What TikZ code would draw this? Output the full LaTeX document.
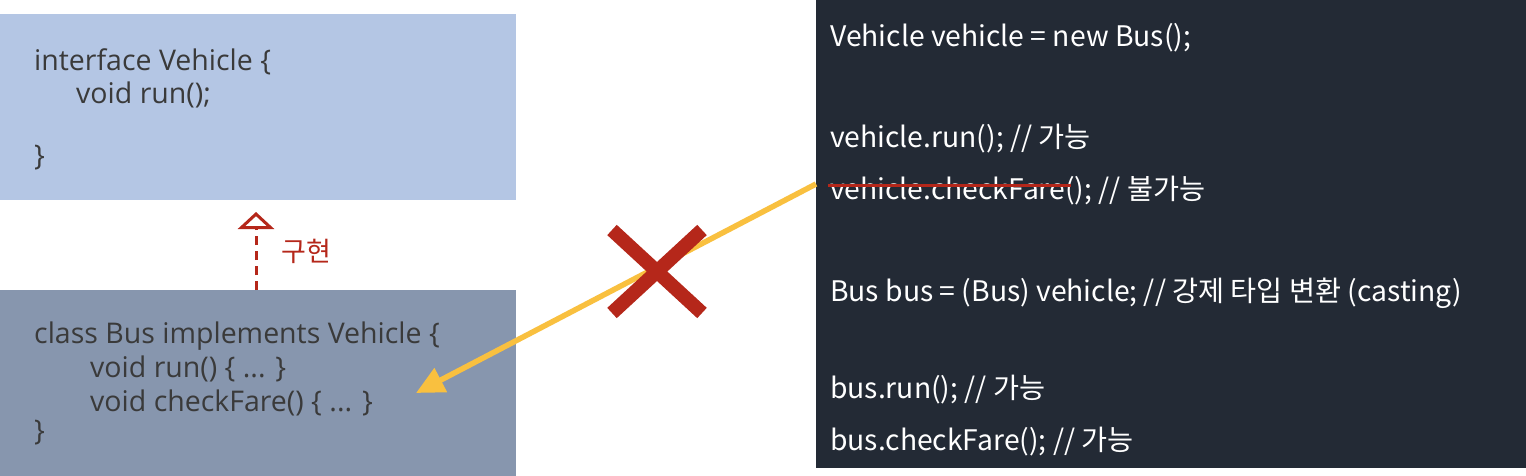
\documentclass[tikz,border=0pt]{standalone}
\usepackage{fontspec}
\setmainfont{Open Sans}
\newfontfamily\kr{Noto Sans CJK KR}
\usetikzlibrary{arrows.meta}
\definecolor{topblue}{HTML}{B4C6E4}
\definecolor{botblue}{HTML}{8796AE}
\definecolor{darkbg}{HTML}{232A35}
\definecolor{codegray}{HTML}{3A3A3A}
\definecolor{xred}{HTML}{B5271A}
\definecolor{yel}{HTML}{F9C03F}
\tikzset{
  lefttxt/.style={anchor=base west, inner sep=0pt, text=codegray, font=\fontsize{28.5}{32}\selectfont},
  righttxt/.style={anchor=base west, inner sep=0pt, text=white, font=\kr\fontsize{28.3}{32}\selectfont},
}
\begin{document}
\begin{tikzpicture}[x=1pt,y=-1pt]
\useasboundingbox (0,0) rectangle (1526,476);
\fill[white] (0,0) rectangle (1526,476);
% boxes
\fill[topblue] (0,14) rectangle (516,200);
\fill[botblue] (0,290) rectangle (516,476);
\fill[darkbg] (816,0) rectangle (1526,468);
% left text
\node[lefttxt] (l1) at (34,71) {interface Vehicle \{};
\node[lefttxt] (l2) at (76,104) {void run();};
\node[lefttxt] (l3) at (34,165) {\}};
\node[lefttxt] (b1) at (34,343) {class Bus implements Vehicle \{};
\node[lefttxt] (b2) at (90,377) {void run() \{ ... \}};
\node[lefttxt] (b3) at (90,411) {void checkFare() \{ ... \}};
\node[lefttxt] (b4) at (34,440) {\}};
% right text
\node[righttxt] (r1) at (830,47) {Vehicle vehicle = new Bus();};
\node[righttxt] (r2) at (830,147) {vehicle.run(); // 가능};
\node[righttxt] (r3) at (830,199) {vehicle.checkFare(); // 불가능};
\node[righttxt] (r4) at (830,301) {Bus bus = (Bus) vehicle; // 강제 타입 변환 (casting)};
\node[righttxt] (r5) at (830,398) {bus.run(); // 가능};
\node[righttxt] (r6) at (830,450) {bus.checkFare(); // 가능};
% strike
\coordinate (s1) at (828,185);
\coordinate (s2) at (1071,185);
\draw[xred, line width=3pt] (s1) -- (s2);
% implements arrow
\coordinate (impA) at (256,290);
\coordinate (impB) at (256,212);
\draw[xred, line width=3pt, dash pattern=on 9pt off 6pt, -{Triangle[open,length=17pt,width=36pt,fill=white]}] (impA) -- (impB);
\node[anchor=west, inner sep=0pt, text=xred, font=\kr\fontsize{27}{30}\selectfont] (impl) at (281,251) {구현};
% yellow arrow
\coordinate (yA) at (816,184);
\coordinate (yB) at (416,393);
\draw[yel, line width=5.5pt, -{Triangle[length=28pt,width=26pt]}] (yA) -- (yB);
% red X
\coordinate (xa) at (612,230);
\coordinate (xb) at (702,313);
\coordinate (xc) at (702,230);
\coordinate (xd) at (612,313);
\draw[xred, line width=14pt] (xa) -- (xb);
\draw[xred, line width=14pt] (xc) -- (xd);
\end{tikzpicture}
\end{document}
